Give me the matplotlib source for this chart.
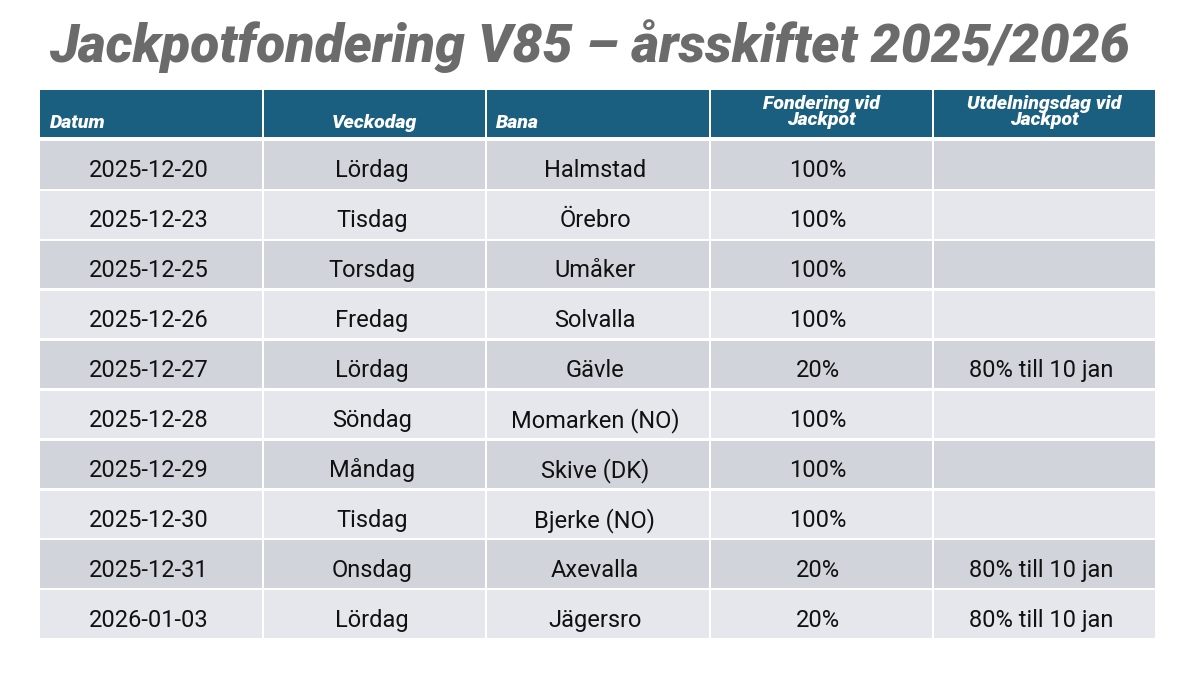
import matplotlib
matplotlib.use('Agg')
import matplotlib.pyplot as plt
from matplotlib.patches import Rectangle

# table content
title = 'Jackpotfondering V85 – årsskiftet 2025/2026'
headers = ['Datum', 'Veckodag', 'Bana', 'Fondering vid\nJackpot', 'Utdelningsdag vid\nJackpot']
datum = ['2025-12-20', '2025-12-23', '2025-12-25', '2025-12-26', '2025-12-27',
         '2025-12-28', '2025-12-29', '2025-12-30', '2025-12-31', '2026-01-03']
veckodag = ['Lördag', 'Tisdag', 'Torsdag', 'Fredag', 'Lördag',
            'Söndag', 'Måndag', 'Tisdag', 'Onsdag', 'Lördag']
bana = ['Halmstad', 'Örebro', 'Umåker', 'Solvalla', 'Gävle',
        'Momarken (NO)', 'Skive (DK)', 'Bjerke (NO)', 'Axevalla', 'Jägersro']
fondering = ['100%', '100%', '100%', '100%', '20%',
             '100%', '100%', '100%', '20%', '20%']
utdelning = ['', '', '', '', '80% till 10 jan',
             '', '', '', '80% till 10 jan', '80% till 10 jan']

columns = [datum, veckodag, bana, fondering, utdelning]

# layout in pixels
x0, x1 = 40, 1156
col_w = (x1 - x0) / 5
head_top, head_bot = 90, 137
row_top, row_h = 140, 49.9
gap = 2.5

header_col = '#1a5f7f'
row_cols = ['#d1d4da', '#e5e7ed']

fig = plt.figure(figsize=(12, 6.76), dpi=100)
ax = fig.add_axes([0, 0, 1, 1])
ax.set_xlim(0, 1200)
ax.set_ylim(676, 0)
ax.axis('off')

ax.text(590, 46, title, ha='center', va='center', fontsize=38.5, color='#6b6b6b',
        family='Roboto', weight='black', style='italic')

# header
hfont = dict(color='white', family='Roboto', weight='black', style='italic', fontsize=14)
for j, h in enumerate(headers):
    cx = x0 + j * col_w
    ax.add_patch(Rectangle((cx + (1 if j else 0), head_top), col_w - (2 if j else 1), head_bot - head_top,
                           color=header_col, lw=0))
    if j in (0, 2):
        ax.text(cx + 10, 128, h, ha='left', va='baseline', **hfont)
    elif j == 1:
        ax.text(cx + col_w / 2, 128, h, ha='center', va='baseline', **hfont)
    else:
        ax.text(cx + col_w / 2, 112, h, ha='center', va='center', linespacing=0.9, **hfont)

# body rows
for i in range(len(datum)):
    y = row_top + i * row_h
    for j, col in enumerate(columns):
        cx = x0 + j * col_w
        ax.add_patch(Rectangle((cx + (1 if j else 0), y + gap / 2), col_w - (2 if j else 1), row_h - gap,
                               color=row_cols[i % 2], lw=0))
        ax.text(cx + col_w / 2 - 3, y + row_h / 2 + 6, col[i], ha='center', va='center',
                fontsize=17, color='#111111', family='Roboto')

fig.savefig('out.png', dpi=100, facecolor='white')
